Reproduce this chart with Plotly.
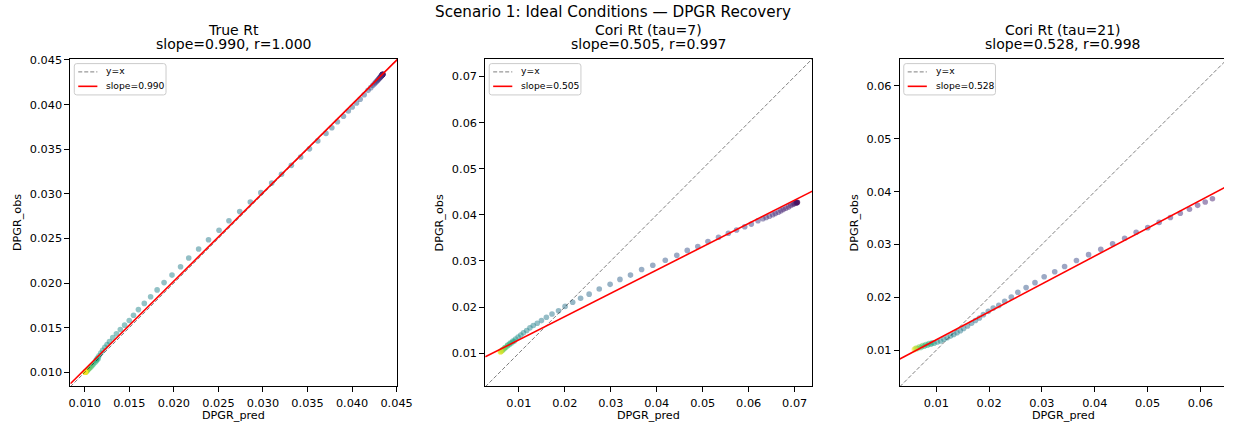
import plotly.graph_objects as go

# ---------------- data ----------------
p1_pred = [0.04345,0.04345,0.04344,0.04343,0.04342,0.04341,0.04340,0.04338,0.04336,0.04333,0.04330,0.04326,0.04322,0.04317,0.04311,0.04304,0.04296,0.04287,0.04277,0.04265,0.04250,0.04232,
           0.04210,0.04180,0.04136,0.04091,0.04050,0.04002,0.03958,0.03903,0.03836,0.03773,0.03707,0.03615,0.03522,0.03423,0.03319,0.03208,0.03098,0.02976,0.02858,0.02739,0.02618,0.02507,0.02389,0.02278,0.02167,0.02075,0.01979,0.01890,0.01812,0.01739,0.01668,0.01602,0.01547,0.01499,0.01447,0.01399,0.01355,0.01314,0.01277,
           0.01250,0.01225,0.01200,0.01180,0.01160,0.01142,0.01128,0.01150,0.01132,0.01114,0.01098,0.01083,0.01070,0.01058,0.01048,0.01040,0.01033,0.01027,0.01022,0.01018,0.01015,0.01012,0.01010,0.01008,0.01007,0.01006,0.01005,0.01005]
p1_obs = [0.04340,0.04340,0.04339,0.04338,0.04337,0.04336,0.04334,0.04332,0.04330,0.04327,0.04323,0.04318,0.04313,0.04307,0.04300,0.04292,0.04283,0.04273,0.04262,0.04249,0.04233,0.04214,
          0.04190,0.04160,0.04110,0.04060,0.04018,0.03973,0.03929,0.03870,0.03807,0.03740,0.03677,0.03593,0.03504,0.03412,0.03319,0.03220,0.03120,0.03013,0.02909,0.02802,0.02699,0.02592,0.02485,0.02381,0.02281,0.02182,0.02089,0.02005,0.01923,0.01846,0.01772,0.01702,0.01639,0.01580,0.01528,0.01480,0.01432,0.01388,0.01343,
          0.01310,0.01280,0.01245,0.01215,0.01185,0.01160,0.01138,0.01150,0.01130,0.01110,0.01093,0.01077,0.01063,0.01051,0.01041,0.01033,0.01026,0.01020,0.01015,0.01011,0.01008,0.01006,0.01004,0.01003,0.01002,0.01001,0.01000,0.01000]
p1_time = [0.00,0.01,0.02,0.03,0.04,0.05,0.06,0.07,0.08,0.09,0.10,0.11,0.12,0.13,0.14,0.15,0.16,0.17,0.18,0.19,0.20,0.21,
           0.28,0.29,0.30,0.31,0.32,0.33,0.34,0.345,0.35,0.355,0.36,0.365,0.37,0.375,0.38,0.385,0.39,0.395,0.40,0.405,0.41,0.415,0.42,0.425,0.43,0.435,0.44,0.445,0.45,0.455,0.46,0.465,0.47,0.475,0.48,0.485,0.49,0.495,0.50,
           0.51,0.52,0.53,0.54,0.55,0.56,0.57,0.60,0.62,0.64,0.66,0.68,0.70,0.72,0.74,0.76,0.78,0.80,0.82,0.84,0.86,0.88,0.90,0.92,0.94,0.96,0.98,1.00]

p2_pred = [0.07060,0.07055,0.07048,0.07040,0.07022,0.06990,0.06964,0.06915,0.06865,0.06808,0.06750,0.06700,0.06643,0.06578,0.06523,0.06450,0.06379,0.06308,0.06201,0.06057,0.05914,0.05736,0.05558,0.05344,0.05114,0.04893,0.04664,0.04436,0.04186,0.03914,0.03671,0.03429,0.03200,0.02986,0.02750,0.02530,0.02344,0.02172,0.02007,0.01864,0.01722,0.01600,0.01493,0.01401,0.01315,0.01242,0.01171,0.01101,0.01043,0.00985,0.00929,0.00871,0.00814,0.00758,0.00700,0.00651,0.00599,
           0.00900,0.00850,0.00800,0.00760,0.00720,0.00685,0.00655,0.00630,0.00615,0.00605]
p2_obs = [0.04270,0.04268,0.04265,0.04262,0.04255,0.04240,0.04227,0.04200,0.04172,0.04142,0.04114,0.04086,0.04056,0.04028,0.04000,0.03970,0.03942,0.03914,0.03872,0.03799,0.03743,0.03670,0.03599,0.03514,0.03421,0.03314,0.03229,0.03121,0.03014,0.02907,0.02814,0.02693,0.02600,0.02493,0.02393,0.02280,0.02191,0.02106,0.02014,0.01921,0.01849,0.01778,0.01707,0.01649,0.01600,0.01549,0.01493,0.01441,0.01392,0.01349,0.01306,0.01264,0.01221,0.01178,0.01120,0.01077,0.01028,
          0.01260,0.01225,0.01190,0.01160,0.01130,0.01100,0.01075,0.01055,0.01042,0.01033]
p2_time = [0.00,0.01,0.02,0.03,0.04,0.05,0.06,0.07,0.08,0.09,0.10,0.11,0.12,0.13,0.14,0.15,0.16,0.17,0.18,0.19,0.20,0.21,0.22,0.23,0.24,0.25,0.26,0.27,0.28,0.29,0.30,0.31,0.32,0.33,0.34,0.35,0.36,0.37,0.38,0.39,0.40,0.41,0.42,0.43,0.44,0.45,0.46,0.47,0.48,0.50,0.52,0.54,0.56,0.58,0.62,0.68,1.00,
           0.60,0.63,0.66,0.70,0.74,0.78,0.82,0.86,0.90,0.95]

p3_pred = [0.06228,0.06091,0.05948,0.05793,0.05619,0.05432,0.05219,0.05003,0.04784,0.04566,0.04338,0.04114,0.03883,0.03653,0.03429,0.03242,0.03042,0.02868,0.02700,0.02544,0.02420,0.02295,0.02183,0.02077,0.01984,0.01891,0.01816,0.01741,0.01667,0.01592,0.01517,0.01456,0.01392,0.01330,0.01269,0.01205,0.01144,0.01082,0.01019,0.00957,0.00895,0.00832,0.00770,0.00709,0.00645,0.00584,
           0.00620,0.00680,0.00740,0.00800,0.00860,0.00920,0.00600]
p3_obs = [0.03867,0.03805,0.03741,0.03667,0.03592,0.03511,0.03418,0.03319,0.03231,0.03119,0.03014,0.02908,0.02808,0.02696,0.02583,0.02484,0.02390,0.02278,0.02184,0.02097,0.02004,0.01923,0.01848,0.01797,0.01735,0.01673,0.01610,0.01561,0.01511,0.01460,0.01411,0.01367,0.01329,0.01299,0.01267,0.01236,0.01206,0.01174,0.01155,0.01131,0.01112,0.01094,0.01075,0.01049,0.01030,0.01011,
          0.01040,0.01065,0.01090,0.01108,0.01125,0.01140,0.01025]
p3_time = [0.10,0.11,0.12,0.13,0.14,0.15,0.16,0.17,0.18,0.19,0.20,0.21,0.22,0.23,0.24,0.25,0.26,0.27,0.28,0.29,0.30,0.31,0.32,0.33,0.34,0.35,0.36,0.37,0.38,0.39,0.40,0.41,0.42,0.43,0.44,0.45,0.46,0.47,0.49,0.51,0.53,0.56,0.60,0.66,0.75,1.00,
           0.85,0.80,0.72,0.68,0.64,0.62,0.92]

panel_names = ["True Rt", "Cori Rt (tau=7)", "Cori Rt (tau=21)"]
slopes = [0.990, 0.505, 0.528]
intercepts = [0.00042, 0.00784, 0.00669]
corr_r = [1.000, 0.997, 0.998]
x_lims = [[0.00838, 0.04510], [0.00271, 0.07386], [0.00309, 0.06447]]
y_lims = [[0.00841, 0.04515], [0.00279, 0.07386], [0.00314, 0.06517]]
diag_lims = [[0.00838, 0.04515], [0.00271, 0.07386], [0.00309, 0.06517]]
tick_step = [0.005, 0.01, 0.01]
tick_fmt = [".3f", ".2f", ".2f"]

suptitle = "Scenario 1: Ideal Conditions — DPGR Recovery"
x_label = "DPGR_pred"
y_label = "DPGR_obs"
legend_diag = "y=x"

preds = [p1_pred, p2_pred, p3_pred]
obss = [p1_obs, p2_obs, p3_obs]
times = [p1_time, p2_time, p3_time]

# ---------------- layout geometry (px) ----------------
W, H = 1239, 423
ax_left_px = [69.3, 490.0, 910.3]
ax_right_px = [401.0, 821.7, 1239.0]
ax_full_right_px = [401.0, 821.7, 1242.0]
ax_top_px, ax_bot_px = 54.3, 386.0
ylabel_x_px = [15.7, 444.0, 864.7]
FONT = "DejaVu Sans"
DY = -2.5  # vertical text correction


def px(xp):
    return xp / W


def py(yp):
    return 1 - yp / H


fig = go.Figure()
for i in range(3):
    sfx = "" if i == 0 else str(i + 1)
    xa, ya = "x" + sfx, "y" + sfx
    fig.add_trace(go.Scatter(
        x=preds[i], y=obss[i], mode="markers", xaxis=xa, yaxis=ya, showlegend=False,
        marker=dict(color=times[i], colorscale="Viridis", cmin=0, cmax=1, size=5.6,
                    opacity=0.5, line=dict(width=0)),
        hoverinfo="skip"))
    lo, hi = diag_lims[i]
    fig.add_trace(go.Scatter(
        x=[lo, hi], y=[lo, hi], mode="lines", xaxis=xa, yaxis=ya, name=legend_diag,
        showlegend=False, line=dict(color="rgba(0,0,0,0.5)", width=1, dash="4px,2px")))
    fig.add_trace(go.Scatter(
        x=[lo, hi], y=[intercepts[i] + slopes[i] * lo, intercepts[i] + slopes[i] * hi],
        mode="lines", xaxis=xa, yaxis=ya, name=f"slope={slopes[i]:.3f}", showlegend=False,
        line=dict(color="red", width=1.6)))

layout = dict(
    width=W, height=H, autosize=False,
    margin=dict(l=0, r=0, t=0, b=0, pad=0),
    paper_bgcolor="white", plot_bgcolor="white",
    font=dict(family=FONT, color="black"),
    showlegend=False,
)
ydom = [py(ax_bot_px), py(ax_top_px)]
for i in range(3):
    sfx = "" if i == 0 else str(i + 1)
    dom = [px(ax_left_px[i]), min(1.0, px(ax_right_px[i]))]
    layout["xaxis" + sfx] = dict(
        domain=dom, range=x_lims[i], anchor="y" + sfx,
        showline=True, linecolor="black", linewidth=1, mirror=True,
        showgrid=False, zeroline=False, ticks="outside", ticklen=5, tickwidth=1,
        tickcolor="black", dtick=tick_step[i], tick0=0, tickformat=tick_fmt[i],
        ticklabelstandoff=1,
        tickfont=dict(size=11.3, family=FONT, color="black"))
    layout["yaxis" + sfx] = dict(
        domain=ydom, range=y_lims[i], anchor="x" + sfx,
        showline=True, linecolor="black", linewidth=1, mirror=(i < 2),
        showgrid=False, zeroline=False, ticks="outside", ticklen=5, tickwidth=1,
        tickcolor="black", dtick=tick_step[i], tick0=0, tickformat=tick_fmt[i],
        tickfont=dict(size=11.3, family=FONT, color="black"))

shapes = []
annotations = []
annotations.append(dict(text=suptitle, x=0.5, y=py(9.7 + DY), xref="paper", yref="paper",
                        xanchor="center", yanchor="middle", showarrow=False,
                        font=dict(size=15.2, family=FONT, color="black")))
for i in range(3):
    cx = px((ax_left_px[i] + ax_full_right_px[i]) / 2)
    annotations.append(dict(text=panel_names[i], x=cx, y=py(27.5 + DY), xref="paper", yref="paper",
                            xanchor="center", yanchor="middle", showarrow=False,
                            font=dict(size=14, family=FONT, color="black")))
    annotations.append(dict(text=f"slope={slopes[i]:.3f}, r={corr_r[i]:.3f}", x=cx, y=py(41.9 + DY),
                            xref="paper", yref="paper", xanchor="center", yanchor="middle",
                            showarrow=False, font=dict(size=14, family=FONT, color="black")))
    annotations.append(dict(text=x_label, x=cx, y=py(415.6), xref="paper", yref="paper",
                            xanchor="center", yanchor="middle", showarrow=False,
                            font=dict(size=11.2, family=FONT, color="black")))
    annotations.append(dict(text=y_label, x=px(ylabel_x_px[i]), y=py((ax_top_px + ax_bot_px) / 2),
                            xref="paper", yref="paper", xanchor="center", yanchor="middle",
                            textangle=-90, showarrow=False,
                            font=dict(size=11.2, family=FONT, color="black")))

    # legend box (matplotlib-style, top-left inside the axes)
    bl, bt = ax_left_px[i] + 4.0, ax_top_px + 5.0
    br, bb = bl + 93.0, bt + 31.7
    r = 2.5
    path = (f"M {px(bl + r)},{py(bt)} L {px(br - r)},{py(bt)} Q {px(br)},{py(bt)} {px(br)},{py(bt + r)} "
            f"L {px(br)},{py(bb - r)} Q {px(br)},{py(bb)} {px(br - r)},{py(bb)} "
            f"L {px(bl + r)},{py(bb)} Q {px(bl)},{py(bb)} {px(bl)},{py(bb - r)} "
            f"L {px(bl)},{py(bt + r)} Q {px(bl)},{py(bt)} {px(bl + r)},{py(bt)} Z")
    shapes.append(dict(type="path", path=path, xref="paper", yref="paper",
                       fillcolor="rgba(255,255,255,0.8)", line=dict(color="#cccccc", width=1),
                       layer="above"))
    rows = [bt + 8.4, bt + 23.0]
    shapes.append(dict(type="line", xref="paper", yref="paper",
                       x0=px(bl + 4), x1=px(bl + 23.4), y0=py(rows[0]), y1=py(rows[0]),
                       line=dict(color="rgba(0,0,0,0.5)", width=1, dash="4px,2px"), layer="above"))
    shapes.append(dict(type="line", xref="paper", yref="paper",
                       x0=px(bl + 4), x1=px(bl + 23.4), y0=py(rows[1]), y1=py(rows[1]),
                       line=dict(color="red", width=1.6), layer="above"))
    for txt, ry in zip([legend_diag, f"slope={slopes[i]:.3f}"], rows):
        annotations.append(dict(text=txt, x=px(bl + 30.4), y=py(ry - 1.0), xref="paper", yref="paper",
                                xanchor="left", yanchor="middle", showarrow=False,
                                font=dict(size=9.2, family=FONT, color="black")))

layout["annotations"] = annotations
layout["shapes"] = shapes

fig.update_layout(**layout)
fig.write_html("out.html")
